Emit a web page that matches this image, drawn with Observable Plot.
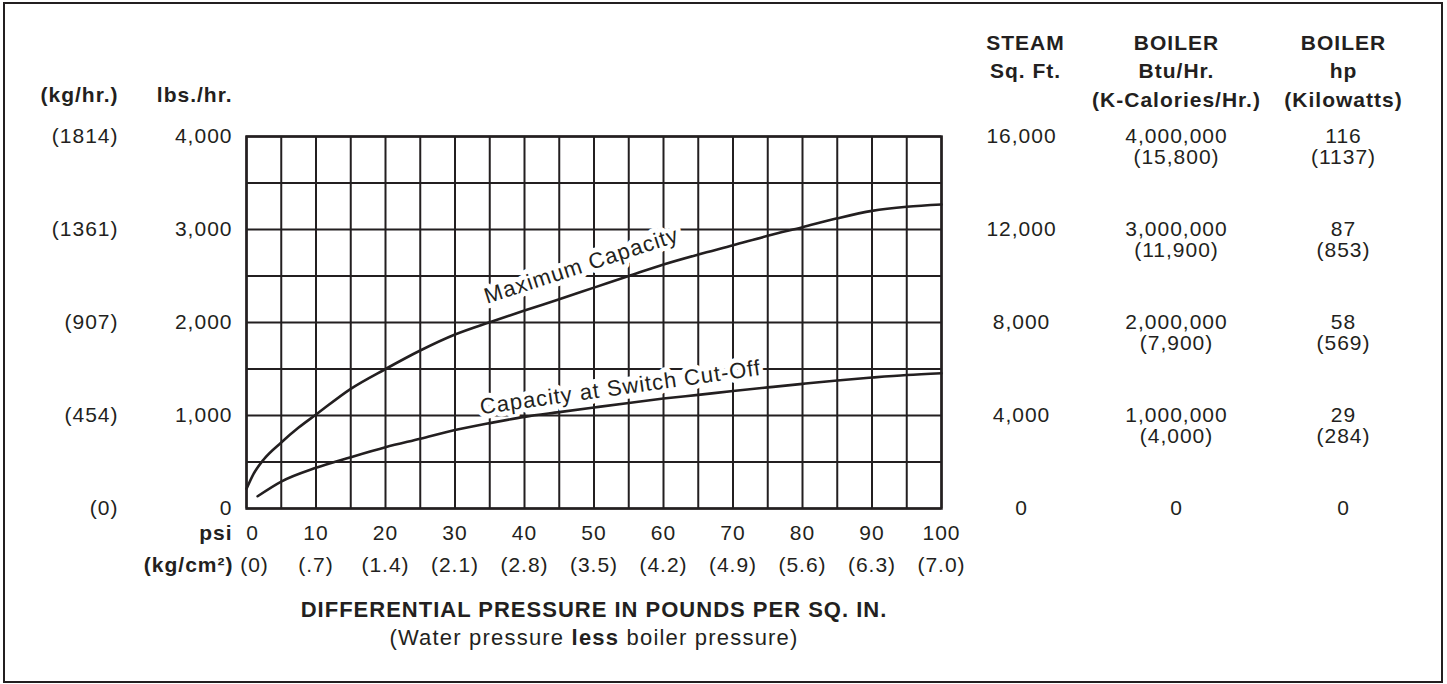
<!DOCTYPE html>
<html>
<head>
<meta charset="utf-8">
<script src="https://cdn.jsdelivr.net/npm/d3@7"></script>
<script src="https://cdn.jsdelivr.net/npm/@observablehq/plot@0.6"></script>
<style>
  html, body { margin: 0; padding: 0; background: #fff; }
  #chart { position: relative; width: 1447px; height: 684px; overflow: hidden; }
  #border { position: absolute; left: 3px; top: 2px; width: 1436px; height: 677px; border: 2px solid #231f20; pointer-events: none; }
  svg text { letter-spacing: 1px; }
</style>
</head>
<body>
<div id="chart"><div id="border"></div></div>
<script>
// ---- Data ----
const psiTicks = [0, 10, 20, 30, 40, 50, 60, 70, 80, 90, 100];
const psiLabels = ["0", "10", "20", "30", "40", "50", "60", "70", "80", "90", "100"];
const kgcm2Labels = ["(0)", "(.7)", "(1.4)", "(2.1)", "(2.8)", "(3.5)", "(4.2)", "(4.9)", "(5.6)", "(6.3)", "(7.0)"];
const gridPsi = [0, 5, 10, 15, 20, 25, 30, 35, 40, 45, 50, 55, 60, 65, 70, 75, 80, 85, 90, 95, 100];

const lbsTicks = [0, 1000, 2000, 3000, 4000];
const lbsLabels = ["0", "1,000", "2,000", "3,000", "4,000"];
const kgLabels = ["(0)", "(454)", "(907)", "(1361)", "(1814)"];
const gridLbs = [0, 500, 1000, 1500, 2000, 2500, 3000, 3500, 4000];

const sqftLabels = ["0", "4,000", "8,000", "12,000", "16,000"];
const btuLabels = ["0", "1,000,000", "2,000,000", "3,000,000", "4,000,000"];
const kcalLabels = ["", "(4,000)", "(7,900)", "(11,900)", "(15,800)"];
const hpLabels = ["0", "29", "58", "87", "116"];
const kwLabels = ["", "(284)", "(569)", "(853)", "(1137)"];

// Maximum Capacity curve (psi, lbs/hr)
const maxPsi = [0, 1, 2.5, 5, 7.5, 10, 15, 20, 25, 30, 35, 40, 45, 50, 55, 60, 65, 70, 75, 80, 85, 90, 95, 100];
const maxLbs = [212, 370, 530, 710, 870, 1010, 1287, 1500, 1699, 1871, 2003, 2129, 2250, 2375, 2500, 2624, 2731, 2830, 2932, 3025, 3120, 3200, 3245, 3269];

// Capacity at Switch Cut-Off curve (psi, lbs/hr)
const cutPsi = [1.6, 5, 10, 15, 20, 25, 30, 35, 40, 45, 50, 55, 60, 65, 70, 75, 80, 85, 90, 95, 100];
const cutLbs = [132, 290, 438, 552, 659, 750, 843, 918, 985, 1036, 1086, 1135, 1182, 1222, 1263, 1302, 1340, 1376, 1408, 1436, 1455];

// Curve labels
const curveLabelText = ["Maximum Capacity", "Capacity at Switch Cut-Off"];
const curveLabelPsi = [48.2, 53.8];
const curveLabelLbs = [2610, 1300];
const curveLabelAngle = [-18, -8];

// ---- Build tables ----
const maxData = maxPsi.map((p, i) => ({psi: p, lbs: maxLbs[i]}));
const cutData = cutPsi.map((p, i) => ({psi: p, lbs: cutLbs[i]}));
const curveLabels = curveLabelText.map((t, i) => ({text: t, psi: curveLabelPsi[i], lbs: curveLabelLbs[i], angle: curveLabelAngle[i]}));

const ink = "#231f20";
const font = "'Liberation Sans', Arial, Helvetica, sans-serif";
const FS = 21;
const lab = (arr) => (d) => arr[lbsTicks.indexOf(d)];
const labX = (arr) => (d) => arr[psiTicks.indexOf(d)];

const header = (text, frameAnchor, dx, textAnchor) =>
  Plot.text([text], {frameAnchor, dx, dy: -107, text: d => d, textAnchor, lineAnchor: "top",
    lineHeight: 1.36, fontWeight: "bold", fontSize: 21, fill: ink});

const chart = Plot.plot({
  width: 1447,
  height: 684,
  marginLeft: 246,
  marginRight: 506,
  marginTop: 136,
  marginBottom: 176,
  style: {fontFamily: font, fontSize: FS + "px", color: ink, background: "transparent"},
  x: {domain: [0, 100], axis: null},
  y: {domain: [0, 4000], axis: null},
  marks: [
    Plot.gridX(gridPsi, {stroke: ink, strokeOpacity: 1, strokeWidth: 2}),
    Plot.gridY(gridLbs, {stroke: ink, strokeOpacity: 1, strokeWidth: 2}),
    Plot.frame({stroke: ink, strokeWidth: 2.5}),

    // left axes
    Plot.axisY(lbsTicks, {anchor: "left", tickSize: 0, tickPadding: 14, tickFormat: lab(lbsLabels), label: null, fontSize: FS, fill: ink}),
    Plot.axisY(lbsTicks, {anchor: "left", tickSize: 0, tickPadding: 0, dx: -128, tickFormat: lab(kgLabels), label: null, fontSize: FS, fill: ink}),

    // right columns
    Plot.axisY(lbsTicks, {anchor: "right", tickSize: 0, tickPadding: 0, dx: 80, textAnchor: "middle", tickFormat: lab(sqftLabels), label: null, fontSize: FS, fill: ink}),
    Plot.axisY(lbsTicks, {anchor: "right", tickSize: 0, tickPadding: 0, dx: 235, textAnchor: "middle", tickFormat: lab(btuLabels), label: null, fontSize: FS, fill: ink}),
    Plot.axisY(lbsTicks, {anchor: "right", tickSize: 0, tickPadding: 0, dx: 235, dy: 21, textAnchor: "middle", tickFormat: lab(kcalLabels), label: null, fontSize: FS, fill: ink}),
    Plot.axisY(lbsTicks, {anchor: "right", tickSize: 0, tickPadding: 0, dx: 402, textAnchor: "middle", tickFormat: lab(hpLabels), label: null, fontSize: FS, fill: ink}),
    Plot.axisY(lbsTicks, {anchor: "right", tickSize: 0, tickPadding: 0, dx: 402, dy: 21, textAnchor: "middle", tickFormat: lab(kwLabels), label: null, fontSize: FS, fill: ink}),

    // headers
    header("STEAM\nSq. Ft.", "top-right", 84, "middle"),
    header("BOILER\nBtu/Hr.\n(K-Calories/Hr.)", "top-right", 235, "middle"),
    header("BOILER\nhp\n(Kilowatts)", "top-right", 402, "middle"),
    Plot.text(["(kg/hr.)"], {frameAnchor: "top-left", dx: -128, dy: -41, text: d => d, textAnchor: "end", lineAnchor: "middle", fontWeight: "bold", fontSize: 21, fill: ink}),
    Plot.text(["lbs./hr."], {frameAnchor: "top-left", dx: -14, dy: -41, text: d => d, textAnchor: "end", lineAnchor: "middle", fontWeight: "bold", fontSize: 21, fill: ink}),

    // bottom axes (first label nudged right, as in the reference)
    Plot.axisX(psiTicks.slice(1), {anchor: "bottom", tickSize: 0, tickPadding: 0, dy: 25, lineAnchor: "middle", tickFormat: labX(psiLabels), label: null, fontSize: FS, fill: ink}),
    Plot.axisX(psiTicks.slice(0, 1), {anchor: "bottom", tickSize: 0, tickPadding: 0, dx: 6, dy: 25, lineAnchor: "middle", tickFormat: labX(psiLabels), label: null, fontSize: FS, fill: ink}),
    Plot.axisX(psiTicks.slice(1), {anchor: "bottom", tickSize: 0, tickPadding: 0, dy: 57, lineAnchor: "middle", tickFormat: labX(kgcm2Labels), label: null, fontSize: FS, fill: ink}),
    Plot.axisX(psiTicks.slice(0, 1), {anchor: "bottom", tickSize: 0, tickPadding: 0, dx: 8, dy: 57, lineAnchor: "middle", tickFormat: labX(kgcm2Labels), label: null, fontSize: FS, fill: ink}),
    Plot.text(["psi"], {frameAnchor: "bottom-left", dx: -14, dy: 25, text: d => d, textAnchor: "end", lineAnchor: "middle", fontWeight: "bold", fontSize: 21, fill: ink}),
    Plot.text(["(kg/cm²)"], {frameAnchor: "bottom-left", dx: -13, dy: 57, text: d => d, textAnchor: "end", lineAnchor: "middle", fontWeight: "bold", fontSize: 21, fill: ink}),
    Plot.text(["DIFFERENTIAL PRESSURE IN POUNDS PER SQ. IN."], {frameAnchor: "bottom", dy: 101, text: d => d, lineAnchor: "middle", fontWeight: "bold", fontSize: 22, fill: ink}),
    Plot.text(["(Water pressure less boiler pressure)"], {frameAnchor: "bottom", dy: 129, text: d => d, lineAnchor: "middle", fontSize: 22, fill: ink}),

    // curve labels with white halo
    Plot.text(curveLabels, {x: "psi", y: "lbs", text: "text", rotate: "angle", fontSize: 22, fill: ink, stroke: "white", strokeWidth: 10, lineAnchor: "middle"}),

    // curves
    Plot.line(maxData, {x: "psi", y: "lbs", curve: "monotone-x", stroke: ink, strokeWidth: 2.6}),
    Plot.line(cutData, {x: "psi", y: "lbs", curve: "monotone-x", stroke: ink, strokeWidth: 2.6})
  ]
});

document.getElementById("chart").prepend(chart);

// Bold "less" within the subtitle; adjust tracking of the axis title lines
d3.select(chart).selectAll("text").each(function() {
  const el = d3.select(this);
  const t = el.text();
  if (t === "(Water pressure less boiler pressure)") {
    el.style("letter-spacing", "1.2px");
    el.text(null);
    el.append("tspan").text("(Water pressure ");
    el.append("tspan").attr("font-weight", "bold").text("less");
    el.append("tspan").text(" boiler pressure)");
  } else if (t === "DIFFERENTIAL PRESSURE IN POUNDS PER SQ. IN.") {
    el.style("letter-spacing", "1px");
  }
});
</script>
</body>
</html>
